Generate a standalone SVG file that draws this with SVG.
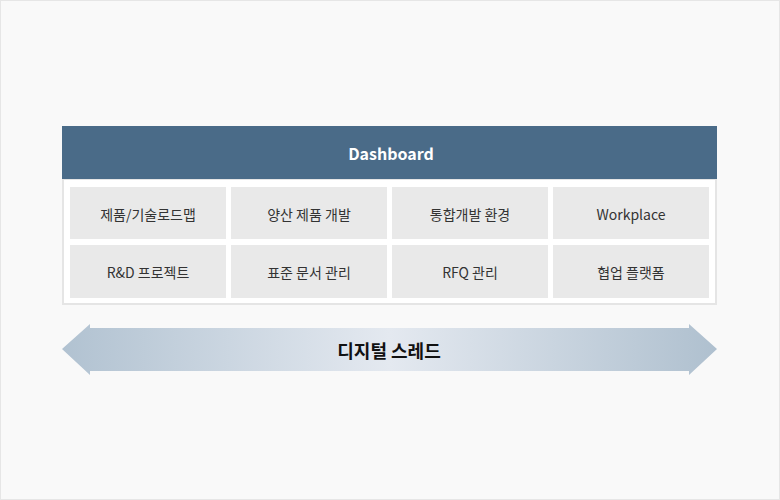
<svg xmlns="http://www.w3.org/2000/svg" width="780" height="500" viewBox="0 0 780 500">
<style>
.cell{fill:#e9e9e9}
.ct{font-family:"Noto Sans CJK KR","Noto Sans",sans-serif;font-size:14px;fill:#333;text-anchor:middle;dominant-baseline:central}
.hd{font-family:"Noto Sans CJK KR","Noto Sans",sans-serif;font-size:16px;font-weight:bold;fill:#fff;text-anchor:middle;dominant-baseline:central}
.ar{font-family:"Noto Sans CJK KR","Noto Sans",sans-serif;font-size:18px;font-weight:bold;fill:#111;text-anchor:middle;dominant-baseline:central}
</style>
<defs>
<linearGradient id="g" x1="62" y1="0" x2="717" y2="0" gradientUnits="userSpaceOnUse">
<stop offset="0" stop-color="#b1c2d1"/>
<stop offset="0.5" stop-color="#e4e9f0"/>
<stop offset="1" stop-color="#afc0cf"/>
</linearGradient>
</defs>
<rect x="0.5" y="0.5" width="779" height="499" fill="#f9f9f9" stroke="#e6e6e6"/>
<g id="panel">
<rect x="63" y="179" width="653" height="125" fill="#fff" stroke="#e5e5e5" stroke-width="2"/>
</g>
<g id="dashboard">
<rect x="62" y="126" width="655" height="53" fill="#4a6b88"/>
<text class="hd" x="391" y="152.5">Dashboard</text>
</g>
<g id="n1"><rect class="cell" x="70" y="187" width="156" height="52"/><text class="ct" x="148" y="214">제품/기술로드맵</text></g>
<g id="n2"><rect class="cell" x="231" y="187" width="156" height="52"/><text class="ct" x="309" y="214">양산 제품 개발</text></g>
<g id="n3"><rect class="cell" x="392" y="187" width="156" height="52"/><text class="ct" x="470" y="214">통합개발 환경</text></g>
<g id="n4"><rect class="cell" x="553" y="187" width="156" height="52"/><text class="ct" x="631" y="214">Workplace</text></g>
<g id="n5"><rect class="cell" x="70" y="245" width="156" height="53"/><text class="ct" x="148" y="271.5">R&amp;D 프로젝트</text></g>
<g id="n6"><rect class="cell" x="231" y="245" width="156" height="53"/><text class="ct" x="309" y="271.5">표준 문서 관리</text></g>
<g id="n7"><rect class="cell" x="392" y="245" width="156" height="53"/><text class="ct" x="470" y="271.5">RFQ 관리</text></g>
<g id="n8"><rect class="cell" x="553" y="245" width="156" height="53"/><text class="ct" x="631" y="271.5">협업 플랫폼</text></g>
<g id="connectors">
<polygon points="62,349 90,324 90,328 689,328 689,324 717,349 689,375 689,371 90,371 90,375" fill="url(#g)"/>
<text class="ar" x="389" y="349.5">디지털 스레드</text>
</g>
</svg>
